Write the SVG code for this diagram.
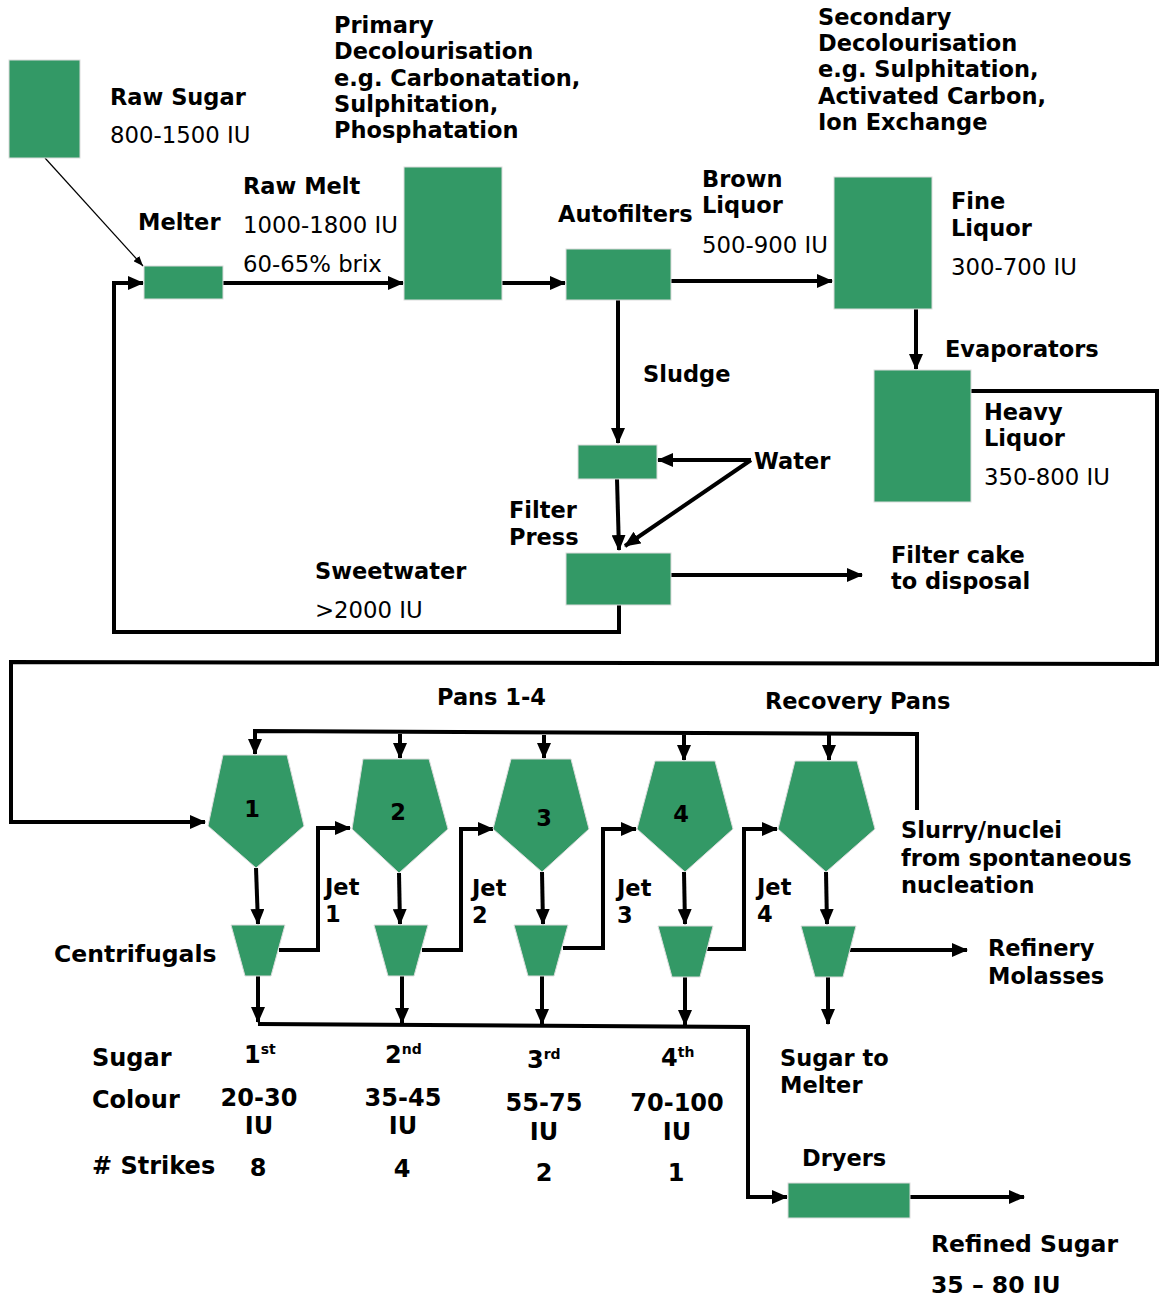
<svg xmlns="http://www.w3.org/2000/svg" width="1159" height="1297" viewBox="0 0 1159 1297">
<style>
.box{fill:#339966;stroke:#dcdcdc;stroke-width:1}
.c{fill:none;stroke:#000;stroke-width:4}
.thin{fill:none;stroke:#000;stroke-width:1.2}
text{font-family:"DejaVu Sans","Verdana",sans-serif;fill:#000}
.b{font-size:22.5px;font-weight:bold}
.n{font-size:22.8px}
.t{font-size:24px;font-weight:bold}
.m{text-anchor:middle}
</style>
<defs>
<marker id="a" markerUnits="userSpaceOnUse" markerWidth="16" markerHeight="14" refX="15" refY="7" orient="auto"><path d="M0,0 L16,7 L0,14 z" fill="#000"/></marker>
<marker id="s" markerUnits="userSpaceOnUse" markerWidth="10" markerHeight="8" refX="10" refY="4" orient="auto"><path d="M0,0 L10,4 L0,8 z" fill="#000"/></marker>
</defs>
<rect width="1159" height="1297" fill="#fff"/>

<g id="connectors">
<line class="thin" x1="45" y1="158" x2="143" y2="266" marker-end="url(#s)"/>
<line class="c" x1="223" y1="283" x2="403" y2="283" marker-end="url(#a)"/>
<line class="c" x1="502" y1="283" x2="565" y2="283" marker-end="url(#a)"/>
<line class="c" x1="671" y1="281" x2="832" y2="281" marker-end="url(#a)"/>
<line class="c" x1="916" y1="309" x2="916" y2="369" marker-end="url(#a)"/>
<polyline class="c" points="971,391 1157,391 1157,664 11,662 11,822 205,822" marker-end="url(#a)"/>
<line class="c" x1="618" y1="300" x2="618" y2="443" marker-end="url(#a)"/>
<line class="c" x1="751" y1="460" x2="658" y2="460" marker-end="url(#a)"/>
<line class="c" x1="751" y1="460" x2="625" y2="546" marker-end="url(#a)"/>
<line class="c" x1="617" y1="479" x2="619" y2="550" marker-end="url(#a)"/>
<line class="c" x1="671" y1="575" x2="862" y2="575" marker-end="url(#a)"/>
<polyline class="c" points="619,605 619,632 114,632 114,283 143,283" marker-end="url(#a)"/>
<polyline class="c" points="917,810 917,734 255,731 255,754" marker-end="url(#a)"/>
<line class="c" x1="400" y1="734" x2="400" y2="758" marker-end="url(#a)"/>
<line class="c" x1="544" y1="735" x2="544" y2="758" marker-end="url(#a)"/>
<line class="c" x1="684" y1="735" x2="684" y2="760" marker-end="url(#a)"/>
<line class="c" x1="829" y1="735" x2="829" y2="760" marker-end="url(#a)"/>
<line class="c" x1="256" y1="868" x2="258" y2="924" marker-end="url(#a)"/>
<line class="c" x1="399" y1="873" x2="400" y2="924" marker-end="url(#a)"/>
<line class="c" x1="542" y1="872" x2="543" y2="924" marker-end="url(#a)"/>
<line class="c" x1="684" y1="872" x2="685" y2="924" marker-end="url(#a)"/>
<line class="c" x1="826" y1="872" x2="827" y2="924" marker-end="url(#a)"/>
<polyline class="c" points="279,950 318,950 318,828 350,828" marker-end="url(#a)"/>
<polyline class="c" points="422,950 461,950 461,829 493,829" marker-end="url(#a)"/>
<polyline class="c" points="563,948 603,948 603,829 636,829" marker-end="url(#a)"/>
<polyline class="c" points="706,949 744,949 744,829 777,829" marker-end="url(#a)"/>
<line class="c" x1="849" y1="950" x2="967" y2="950" marker-end="url(#a)"/>
<line class="c" x1="828" y1="977" x2="828" y2="1024" marker-end="url(#a)"/>
<line class="c" x1="258" y1="976" x2="258" y2="1022" marker-end="url(#a)"/>
<line class="c" x1="402" y1="976" x2="402" y2="1023" marker-end="url(#a)"/>
<line class="c" x1="542" y1="976" x2="542" y2="1024" marker-end="url(#a)"/>
<line class="c" x1="685" y1="977" x2="685" y2="1025" marker-end="url(#a)"/>
<polyline class="c" points="258,1024 748,1027 748,1197 787,1197" marker-end="url(#a)"/>
<line class="c" x1="910" y1="1197" x2="1024" y2="1197" marker-end="url(#a)"/>
</g>

<g id="raw-sugar"><rect class="box" x="9" y="60" width="71" height="98"/>
<text class="b" x="110" y="105">Raw Sugar</text><text class="n" x="110" y="143">800-1500 IU</text></g>
<g id="melter"><rect class="box" x="144" y="266" width="79" height="33"/>
<text class="b" x="138" y="230">Melter</text></g>
<g id="raw-melt-label"><text class="b" x="243" y="194">Raw Melt</text><text class="n" x="243" y="233">1000-1800 IU</text><text class="n" x="243" y="272">60-65% brix</text></g>
<g id="primary"><rect class="box" x="404" y="167" width="98" height="133"/>
<text class="b" x="334" y="33">Primary</text><text class="b" x="334" y="59">Decolourisation</text><text class="b" x="334" y="86">e.g. Carbonatation,</text><text class="b" x="334" y="112">Sulphitation,</text><text class="b" x="334" y="138">Phosphatation</text></g>
<g id="autofilters"><rect class="box" x="566" y="249" width="105" height="51"/>
<text class="b" x="558" y="222">Autofilters</text></g>
<g id="brown-liquor-label"><text class="b" x="702" y="187">Brown</text><text class="b" x="702" y="213">Liquor</text><text class="n" x="702" y="253">500-900 IU</text></g>
<g id="secondary"><rect class="box" x="834" y="177" width="98" height="132"/>
<text class="b" x="818" y="25">Secondary</text><text class="b" x="818" y="51">Decolourisation</text><text class="b" x="818" y="77">e.g. Sulphitation,</text><text class="b" x="818" y="104">Activated Carbon,</text><text class="b" x="818" y="130">Ion Exchange</text>
<text class="b" x="951" y="209">Fine</text><text class="b" x="951" y="236">Liquor</text><text class="n" x="951" y="275">300-700 IU</text></g>
<g id="evaporators"><rect class="box" x="874" y="370" width="97" height="132"/>
<text class="b" x="945" y="357">Evaporators</text><text class="b" x="984" y="420">Heavy</text><text class="b" x="984" y="446">Liquor</text><text class="n" x="984" y="485">350-800 IU</text></g>
<g id="sludge-label"><text class="b" x="643" y="382">Sludge</text></g>
<g id="sludge-tank"><rect class="box" x="578" y="445" width="79" height="34"/></g>
<g id="water"><text class="b" x="754" y="469">Water</text></g>
<g id="filter-press"><rect class="box" x="566" y="553" width="105" height="52"/>
<text class="b" x="509" y="518">Filter</text><text class="b" x="509" y="545">Press</text></g>
<g id="filter-cake"><text class="b" x="891" y="563">Filter cake</text><text class="b" x="891" y="589">to disposal</text></g>
<g id="sweetwater"><text class="b" x="315" y="579">Sweetwater</text><text class="n" x="315" y="618">&gt;2000 IU</text></g>
<g id="pans-labels"><text class="b" x="437" y="705">Pans 1-4</text><text class="b" x="765" y="709">Recovery Pans</text></g>
<g id="pan1"><polygon class="box" points="223,755 287,755 304,826 256,868 208,826"/><text class="b m" x="252" y="817">1</text></g>
<g id="pan2"><polygon class="box" points="363,759 429,759 448,829 399,873 352,829"/><text class="b m" x="398" y="820">2</text></g>
<g id="pan3"><polygon class="box" points="511,759 571,759 589,829 542,872 493,829"/><text class="b m" x="544" y="826">3</text></g>
<g id="pan4"><polygon class="box" points="655,761 715,761 733,829 685,872 637,829"/><text class="b m" x="681" y="822">4</text></g>
<g id="pan5"><polygon class="box" points="795,761 857,761 875,829 826,872 778,829"/></g>
<g id="cent1"><polygon class="box" points="231,925 285,925 271,976 245,976"/></g>
<g id="cent2"><polygon class="box" points="374,925 428,925 414,976 388,976"/></g>
<g id="cent3"><polygon class="box" points="514,925 568,925 554,976 528,976"/></g>
<g id="cent4"><polygon class="box" points="658,926 713,926 700,977 672,977"/></g>
<g id="cent5"><polygon class="box" points="801,926 856,926 843,977 815,977"/></g>
<g id="jets"><text class="b" x="325" y="895">Jet</text><text class="b" x="325" y="922">1</text>
<text class="b" x="472" y="896">Jet</text><text class="b" x="472" y="923">2</text>
<text class="b" x="617" y="896">Jet</text><text class="b" x="617" y="923">3</text>
<text class="b" x="757" y="895">Jet</text><text class="b" x="757" y="922">4</text></g>
<g id="slurry"><text class="b" x="901" y="838">Slurry/nuclei</text><text class="b" x="901" y="866">from spontaneous</text><text class="b" x="901" y="893">nucleation</text></g>
<g id="centrifugals-label"><text class="b" x="54" y="962" style="font-size:23.5px">Centrifugals</text></g>
<g id="molasses"><text class="b" x="988" y="956">Refinery</text><text class="b" x="988" y="984">Molasses</text></g>
<g id="sugar-to-melter"><text class="b" x="780" y="1066">Sugar to</text><text class="b" x="780" y="1093">Melter</text></g>
<g id="table">
<text class="t" x="92" y="1066">Sugar</text><text class="t" x="92" y="1108">Colour</text><text class="t" x="92" y="1174"># Strikes</text>
<text class="t" x="244" y="1063">1<tspan font-size="14" dy="-9">st</tspan></text>
<text class="t" x="385" y="1063">2<tspan font-size="14" dy="-9">nd</tspan></text>
<text class="t" x="527" y="1068">3<tspan font-size="14" dy="-9">rd</tspan></text>
<text class="t" x="661" y="1066">4<tspan font-size="14" dy="-9">th</tspan></text>
<text class="t m" x="259" y="1106">20-30</text><text class="t m" x="259" y="1134">IU</text>
<text class="t m" x="403" y="1106">35-45</text><text class="t m" x="403" y="1134">IU</text>
<text class="t m" x="544" y="1111">55-75</text><text class="t m" x="544" y="1140">IU</text>
<text class="t m" x="677" y="1111">70-100</text><text class="t m" x="677" y="1140">IU</text>
<text class="t m" x="258" y="1176">8</text><text class="t m" x="402" y="1177">4</text><text class="t m" x="544" y="1181">2</text><text class="t m" x="676" y="1181">1</text>
</g>
<g id="dryers"><rect class="box" x="788" y="1183" width="122" height="35"/>
<text class="b" x="802" y="1166">Dryers</text></g>
<g id="refined-sugar"><text class="b" x="931" y="1252" style="font-size:23.5px">Refined Sugar</text><text class="b" x="931" y="1293" style="font-size:23.5px">35 – 80 IU</text></g>
</svg>
